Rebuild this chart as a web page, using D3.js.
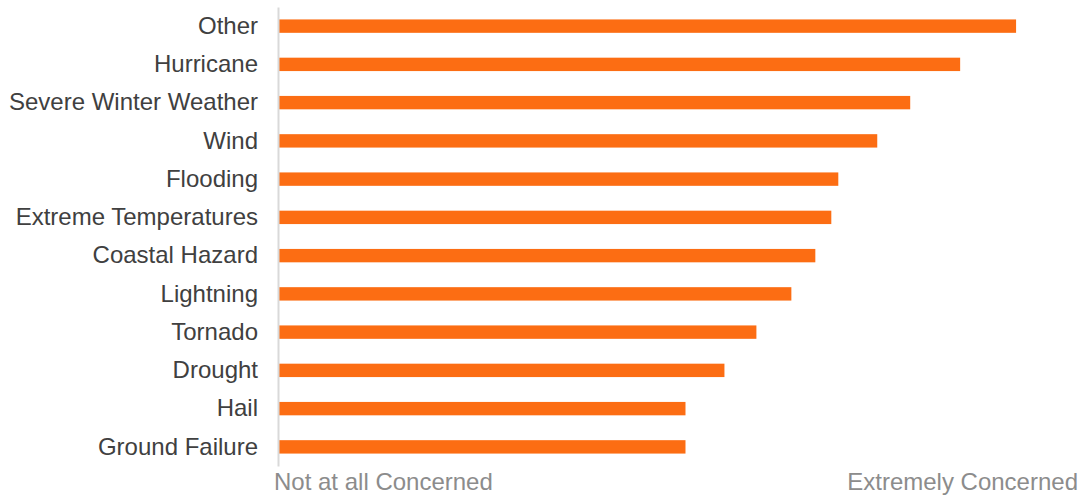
<!DOCTYPE html>
<html>
<head>
<meta charset="utf-8">
<script src="https://cdn.jsdelivr.net/npm/d3@7"></script>
<style>
  body { margin: 0; background: #fff; }
  text { font-family: "Liberation Sans", Arial, sans-serif; }
</style>
</head>
<body>
<div id="chart"></div>
<script>
// chart size
var svgwdth = 1086;
var svghght = 497;

// hazards, top to bottom
var hazards = ["Other", "Hurricane", "Severe Winter Weather", "Wind", "Flooding",
  "Extreme Temperatures", "Coastal Hazard", "Lightning", "Tornado", "Drought",
  "Hail", "Ground Failure"];

// mean concern rating (1 = not at all, 5 = extremely)
var concern = [4.69, 4.41, 4.16, 3.995, 3.80, 3.765, 3.685, 3.565, 3.39, 3.23, 3.035, 3.035];

// scale end labels
var scaleLabels = ["Not at all Concerned", "Extremely Concerned"];
var scaleDomain = [1, 5];

var dataset = hazards.map(function(h, i) { return {hazard: h, value: concern[i]}; });

var svg = d3.select("#chart")
  .append("svg")
  .attr("width", svgwdth)
  .attr("height", svghght);

var xScale = d3.scaleLinear()
  .domain(scaleDomain)
  .range([279, 1078]);

var yScale = d3.scaleBand()
  .domain(hazards)
  .range([7, 466])
  .paddingInner(0.65)
  .paddingOuter(0.325);

// bars
svg.selectAll("rect.bar")
  .data(dataset)
  .enter()
  .append("rect")
  .attr("class", "bar")
  .attr("x", xScale(scaleDomain[0]))
  .attr("y", d => yScale(d.hazard))
  .attr("width", d => xScale(d.value) - xScale(scaleDomain[0]))
  .attr("height", yScale.bandwidth())
  .attr("fill", "#fc6d13");

// left axis with category labels
var leftAxis = d3.axisLeft(yScale).tickSize(0).tickPadding(20);
var yAxis = svg.append("g")
  .attr("transform", `translate(${xScale(scaleDomain[0]) - 1}, 0)`)
  .call(leftAxis);

yAxis.select(".domain")
  .attr("stroke", "#d9d9d9")
  .attr("stroke-width", 2);

yAxis.selectAll("text")
  .attr("fill", "#404040")
  .style("font-size", "24px")
  .style("font-family", "'Liberation Sans', Arial, sans-serif");

// scale end labels
svg.append("text")
  .attr("x", xScale(scaleDomain[0]) - 5)
  .attr("y", 490)
  .attr("fill", "#8c8c8c")
  .style("font-size", "24px")
  .text(scaleLabels[0]);

svg.append("text")
  .attr("x", xScale(scaleDomain[1]))
  .attr("y", 490)
  .attr("text-anchor", "end")
  .attr("fill", "#8c8c8c")
  .style("font-size", "24px")
  .text(scaleLabels[1]);
</script>
</body>
</html>
